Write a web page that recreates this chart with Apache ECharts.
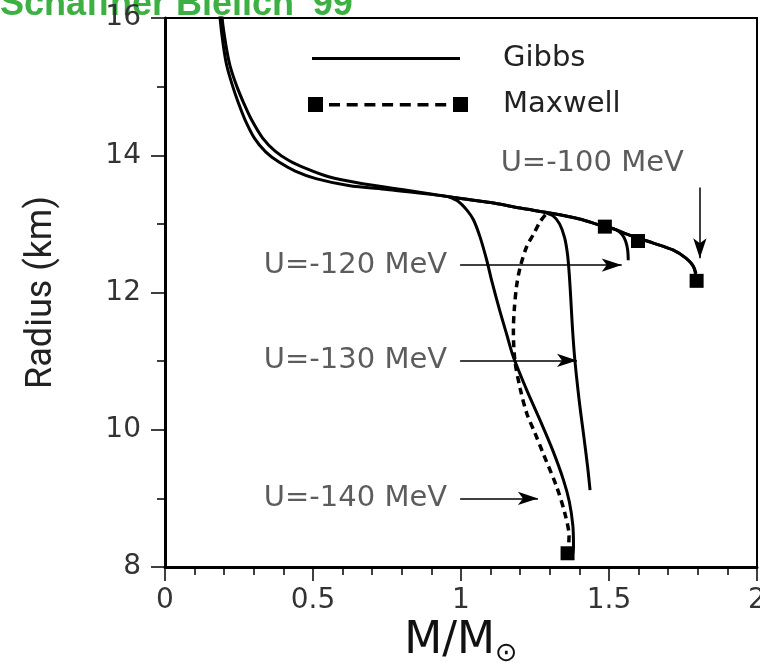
<!DOCTYPE html>
<html><head><meta charset="utf-8">
<script src="https://cdn.jsdelivr.net/npm/echarts@6/dist/echarts.min.js"></script>
<style>html,body{margin:0;padding:0;background:#fff}#c{width:760px;height:672px}</style>
</head><body><div id="c"></div>
<script>
// ---- data (M/Msun, Radius km) ----
const gibbsMain = [[0.19,16.4],[0.193,16.0],[0.206,15.6],[0.22,15.3],[0.243,15.0],[0.267,14.75],[0.292,14.52],[0.33,14.25],[0.372,14.06],[0.42,13.92],[0.48,13.8],[0.55,13.69],[0.65,13.6],[0.8,13.5],[0.92,13.42],[1.0,13.37],[1.1,13.31],[1.2,13.23],[1.31,13.15],[1.4,13.07],[1.47,12.98],[1.52,12.92],[1.56,12.85],[1.6,12.79],[1.65,12.72],[1.716,12.62],[1.76,12.5],[1.785,12.38],[1.794,12.28]];
const maxwellMain = [[0.18,16.4],[0.186,16.0],[0.197,15.6],[0.209,15.3],[0.229,15.0],[0.249,14.75],[0.27,14.52],[0.302,14.25],[0.34,14.05],[0.385,13.9],[0.44,13.77],[0.51,13.66],[0.62,13.56],[0.75,13.5],[0.9,13.43],[1.0,13.37],[1.1,13.31],[1.2,13.23],[1.31,13.15],[1.4,13.07],[1.47,12.98],[1.52,12.92],[1.56,12.85],[1.6,12.79],[1.65,12.72],[1.716,12.62],[1.76,12.5],[1.785,12.38],[1.796,12.17]];
const gibbsU120 = [[1.47,12.98],[1.5,12.95],[1.526,12.91],[1.545,12.84],[1.556,12.75],[1.563,12.62],[1.565,12.47]];
const gibbsU130 = [[1.28,13.17],[1.31,13.12],[1.333,13.0],[1.35,12.8],[1.36,12.55],[1.366,12.25],[1.371,11.9],[1.377,11.45],[1.385,11.0],[1.4,10.4],[1.415,9.9],[1.428,9.45],[1.436,9.12]];
const gibbsU140 = [[0.96,13.39],[0.99,13.33],[1.02,13.2],[1.042,13.06],[1.065,12.8],[1.087,12.47],[1.105,12.15],[1.13,11.75],[1.155,11.38],[1.177,11.06],[1.22,10.6],[1.267,10.14],[1.31,9.7],[1.346,9.27],[1.366,8.95],[1.378,8.6],[1.38,8.3],[1.378,8.2]];
const maxwellU140 = [[1.285,13.13],[1.267,13.03],[1.245,12.85],[1.222,12.67],[1.2,12.37],[1.188,12.1],[1.18,11.75],[1.177,11.45],[1.182,11.01],[1.2,10.6],[1.222,10.24],[1.25,9.95],[1.278,9.65],[1.323,9.17],[1.351,8.78],[1.365,8.45],[1.362,8.22]];
const maxwellEnds = [[1.486,12.96],[1.598,12.75],[1.796,12.17],[1.36,8.2]];

// ---- annotations ----
const arrowLabels = ['U=-100 MeV','U=-120 MeV','U=-130 MeV','U=-140 MeV'];
const arrowFrom = [[1.807,13.53],[0.997,12.40],[0.997,11.01],[0.997,9.0]];
const arrowTo = [[1.807,12.50],[1.543,12.40],[1.392,11.01],[1.26,9.0]];
const labelAt = [[1.753,13.88],[0.953,12.40],[0.953,11.01],[0.953,9.0]];

const titleText = "Schaffner Bielich '99";
const xName = 'M/M{s|⊙}';
const yName = 'Radius (km)';

const chart = echarts.init(document.getElementById('c'), null, {renderer:'canvas'});
const solid = {color:'#000', width:3, type:'solid'};
const F = 'DejaVu Sans';

function lineSeries(name, data, ls){
  return {name, type:'line', data, showSymbol:false, symbol:'none', smooth:0.3,
    lineStyle: ls, itemStyle:{color:'#000'}, z:3, silent:true, animation:false};
}

const maxIcon = 'path://M0,0H15V15H0Z M145,0H160V15H145Z ' +
  [21,38.7,56.4,74.1,91.8,109.5,127.2].map(x=>`M${x},6H${(x+11).toFixed(1)}V9.5H${x}Z`).join(' ');

const option = {
  animation:false,
  backgroundColor:'#fff',
  graphic:[{type:'text', left:0, top:-13, style:{text:titleText, fill:'#3cb043', font:'bold 36px "Liberation Sans", Arial, sans-serif'}}],
  legend:[
    {data:['Gibbs'], left:312, top:44, padding:0, itemWidth:148, itemHeight:3, icon:'rect', selectedMode:false,
     itemStyle:{borderWidth:0}, textStyle:{fontSize:29, fontFamily:F, color:'#222', padding:[0,0,0,38]}},
    {data:['Maxwell'], left:308, top:90, padding:0, itemWidth:160, itemHeight:15, icon:maxIcon, selectedMode:false,
     itemStyle:{borderWidth:0}, textStyle:{fontSize:29, fontFamily:F, color:'#222', padding:[0,0,0,30]}}
  ],
  grid:{left:165, right:3, top:18, bottom:105, outerBoundsMode:'none', containLabel:false,
        show:true, borderColor:'#000', borderWidth:2, backgroundColor:'transparent'},
  xAxis:{type:'value', min:0, max:2, interval:0.5,
    name:xName, nameLocation:'middle', nameGap:42,
    nameTextStyle:{fontSize:44, fontFamily:F, color:'#111', rich:{s:{fontSize:27, fontFamily:F, color:'#111', padding:[24,0,0,0]}}},
    axisLine:{onZero:false, lineStyle:{color:'#000', width:3}},
    axisTick:{show:true, inside:false, length:14, lineStyle:{color:'#000', width:1.5}},
    minorTick:{show:true, splitNumber:5, length:8, lineStyle:{color:'#000', width:1.5}},
    splitLine:{show:false}, minorSplitLine:{show:false},
    axisLabel:{fontSize:28, fontFamily:F, color:'#333', margin:20}
  },
  yAxis:{type:'value', min:8, max:16, interval:2,
    name:yName, nameLocation:'middle', nameGap:105, nameRotate:90,
    nameTextStyle:{fontSize:36, fontFamily:'Roboto', color:'#222'},
    axisLine:{onZero:false, lineStyle:{color:'#000', width:3}},
    axisTick:{show:true, inside:false, length:14, lineStyle:{color:'#000', width:1.5}},
    minorTick:{show:true, splitNumber:2, length:8, lineStyle:{color:'#000', width:1.5}},
    splitLine:{show:false}, minorSplitLine:{show:false},
    axisLabel:{fontSize:28, fontFamily:F, color:'#333', margin:24}
  },
  series:[
    lineSeries('Gibbs', gibbsMain, solid),
    lineSeries('Maxwell', maxwellMain, solid),
    lineSeries('Gibbs', gibbsU120, solid),
    lineSeries('Gibbs', gibbsU130, solid),
    lineSeries('Gibbs', gibbsU140, solid),
    lineSeries('Maxwell', maxwellU140, {color:'#000', width:3.5, type:[7,5]}),
    {name:'Maxwell', type:'scatter', data:maxwellEnds, symbol:'rect', symbolSize:14, itemStyle:{color:'#000', opacity:1}, z:4, silent:true},
    {name:'annot', type:'scatter', data:labelAt.map((p,i)=>({value:p, name:arrowLabels[i]})), symbolSize:0, silent:true,
     label:{show:true, position:'left', distance:0, formatter:p=>p.name, fontSize:29, fontFamily:F, color:'#333'},
     markLine:{silent:true, symbol:'none',
       lineStyle:{color:'#000', width:1.5, type:'solid'}, label:{show:false},
       data: arrowFrom.map((p,i)=>[{coord:p, symbol:'none'},{coord:arrowTo[i], symbol:'arrow', symbolSize:[10,20]}])}
    }
  ]
};
chart.setOption(option);
</script></body></html>
